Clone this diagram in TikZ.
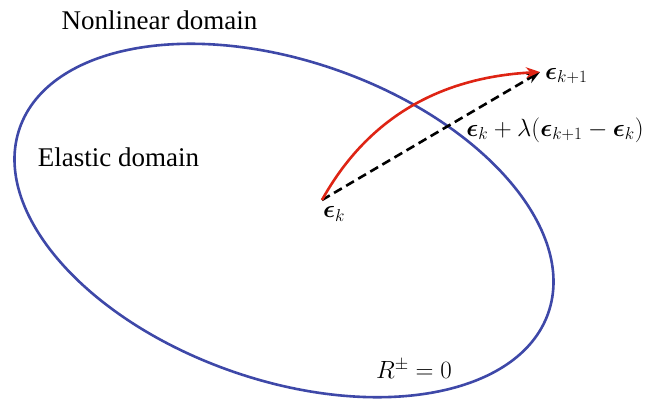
\documentclass[tikz,border=0pt]{standalone}
\usepackage{fontspec}
\setmainfont{Liberation Serif}
\usepackage{bm}
\usetikzlibrary{arrows.meta}
\definecolor{ellblue}{RGB}{62,72,168}
\definecolor{arrred}{RGB}{222,36,20}
\tikzset{
  lbl/.style={font=\fontsize{26}{30}\selectfont, inner sep=0pt},
  txt/.style={font=\fontsize{27}{31}\selectfont, inner sep=0pt},
  bound/.style={draw=ellblue, line width=2.6pt},
  path arrow/.style={draw=arrred, line width=2.6pt, -{Stealth[length=14pt,width=11pt]}},
  chord arrow/.style={draw=black, line width=2.6pt, dash pattern=on 9pt off 5pt, -{Stealth[length=13pt,width=10pt]}}
}
\begin{document}
\begin{tikzpicture}[x=1pt,y=1pt]
\useasboundingbox (0,0) rectangle (646,400);
% elastic domain boundary
\draw[bound, rotate around={-19.3:(284,179.5)}] (284,179.5) ellipse [x radius=280, y radius=159.5];
% labels
\node[txt] (nonlin) at (159.5,380) {Nonlinear domain};
\node[txt] (elastic) at (118.5,243) {Elastic domain};
\node[lbl] (rzero) at (414,31) {$R^{\pm}=0$};
% points
\coordinate (A) at (322,200);
\coordinate (B) at (540,328);
\node[lbl, anchor=west] (ek1) at (545,324) {$\bm{\epsilon}_{k+1}$};
\node[lbl] (ek) at (334,186) {$\bm{\epsilon}_{k}$};
\node[lbl] (mix) at (555,270) {$\bm{\epsilon}_{k}+\lambda(\bm{\epsilon}_{k+1}-\bm{\epsilon}_{k})$};
% arrows
\draw[chord arrow] (A) -- (B);
\draw[path arrow] (A) .. controls (362,272) and (428,322) .. (B);
\end{tikzpicture}
\end{document}
